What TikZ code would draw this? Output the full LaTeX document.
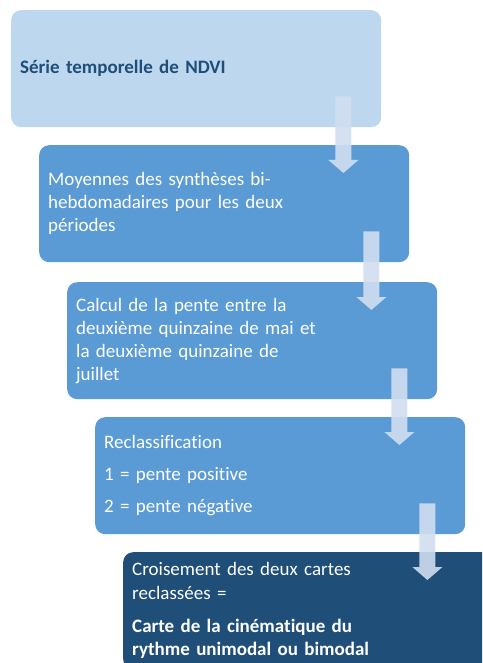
\documentclass[tikz,border=0pt]{standalone}
\usepackage{fontspec}
\setmainfont{Carlito}[Ligatures=NoCommon]
\usetikzlibrary{calc}

\definecolor{boxlight}{RGB}{189,215,238}
\definecolor{boxmid}{RGB}{91,155,213}
\definecolor{boxdark}{RGB}{31,78,121}
\definecolor{arrowfill}{RGB}{208,222,240}

\tikzset{
  stepbox/.style={rectangle, rounded corners=10pt, anchor=north west,
    minimum width=370pt, minimum height=117pt, text width=352pt,
    inner xsep=9pt, align=left, text=white,
    font=\fontsize{19}{23}\selectfont},
  flowarrow/.style={fill=arrowfill, fill opacity=0.9},
}

\begin{document}
\begin{tikzpicture}[x=1pt,y=1pt,yscale=-1,xscale=1]
\clip (0,0) rectangle (482,663);

% steps of the chain
\node [stepbox, fill=boxlight, text=boxdark] (serie) at (11,10)
  {\bfseries Série temporelle de NDVI};
\node [stepbox, fill=boxmid] (moyennes) at (39,145)
  {Moyennes des synthèses bi-\\hebdomadaires pour les deux\\périodes};
\node [stepbox, fill=boxmid] (pente) at (67,282)
  {Calcul de la pente entre la\\deuxième quinzaine de mai et\\la deuxième quinzaine de\\juillet};
\node [stepbox, fill=boxmid] (reclass) at (95,417)
  {Reclassification\\[9pt]1 = pente positive\\[9pt]2 = pente négative};
\node [stepbox, fill=boxdark] (croisement) at (123,552)
  {Croisement des deux cartes\\[1pt]reclassées =\\[10pt]\bfseries Carte de la cinématique du\\rythme unimodal ou bimodal};

% block arrows from one step to the next
\foreach \src/\dst in {serie/moyennes, moyennes/pente, pente/reclass, reclass/croisement}{
  \coordinate (t) at ($(\src.south east)+(-38,-31)$);
  \coordinate (tip) at ($(t |- \dst.north)+(0,28)$);
  \fill [flowarrow] ($(t)+(-8,0)$) -- ($(t)+(8,0)$) -- ($(tip)+(8,-13)$)
    -- ($(tip)+(15,-13)$) -- (tip) -- ($(tip)+(-15,-13)$)
    -- ($(tip)+(-8,-13)$) -- cycle;
}

\end{tikzpicture}
\end{document}
